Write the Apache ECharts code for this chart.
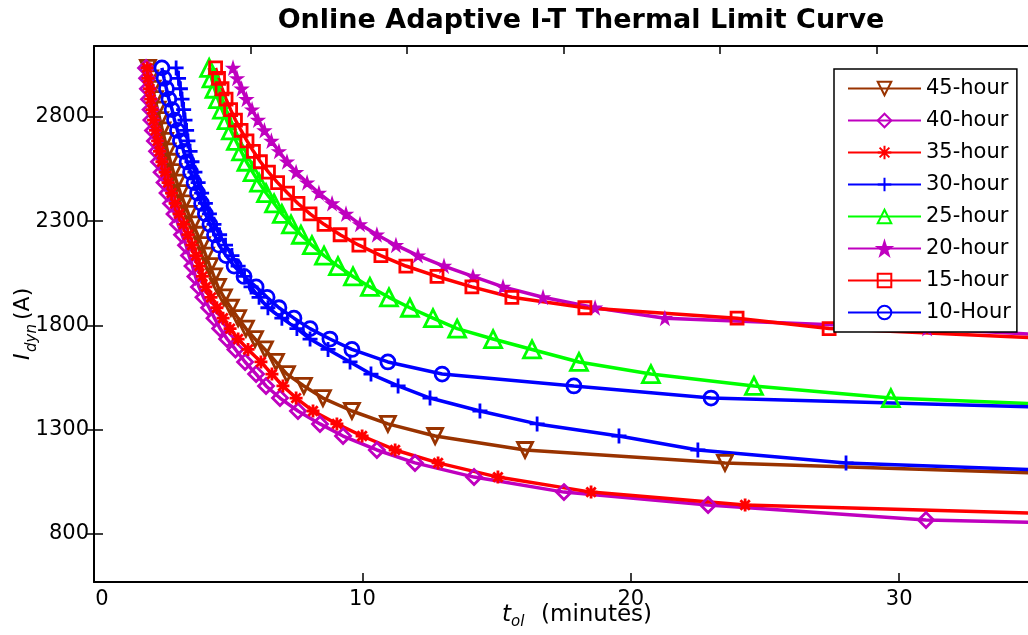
<!DOCTYPE html>
<html>
<head>
<meta charset="utf-8">
<script src="https://cdn.jsdelivr.net/npm/echarts@6/dist/echarts.min.js"></script>
<style>
html, body { margin: 0; padding: 0; background: #fff; }
#chart { width: 1028px; height: 635px; }
</style>
</head>
<body>
<div id="chart"></div>
<script>
// current levels (A) shared by every curve, top to bottom
const currentA = [3035, 2985, 2935, 2885, 2835, 2785, 2735, 2685, 2635, 2585, 2535, 2485, 2435, 2385,
    2335, 2285, 2235, 2185, 2135, 2085, 2035, 1985, 1935, 1885, 1835, 1785, 1735, 1685, 1625, 1567,
    1510, 1452, 1390, 1328, 1270, 1203, 1141, 1073, 1001, 939, 867, 805];

// overload time (minutes) for each curve, same order as currentA
const t45 = [2.01, 2.09, 2.18, 2.27, 2.37, 2.46, 2.55, 2.65, 2.74, 2.85, 2.96, 3.09, 3.22, 3.37, 3.52,
    3.69, 3.86, 4.02, 4.17, 4.32, 4.47, 4.62, 4.84, 5.10, 5.37, 5.66, 6.00, 6.37, 6.78, 7.19, 7.82, 8.53,
    9.61, 10.95, 12.71, 16.06, 23.51, 39.79];
const t40 = [1.94, 1.98, 2.01, 2.05, 2.11, 2.14, 2.20, 2.27, 2.35, 2.42, 2.52, 2.63, 2.74, 2.87, 3.00,
    3.13, 3.28, 3.43, 3.54, 3.67, 3.78, 3.91, 4.08, 4.29, 4.49, 4.70, 4.96, 5.27, 5.63, 6.04, 6.41, 6.93,
    7.60, 8.42, 9.28, 10.54, 11.96, 14.16, 17.51, 22.88, 31.00, 52.38];
const t35 = [1.98, 2.01, 2.07, 2.11, 2.16, 2.22, 2.29, 2.37, 2.44, 2.53, 2.65, 2.76, 2.89, 3.02, 3.17,
    3.34, 3.50, 3.65, 3.80, 3.93, 4.04, 4.17, 4.36, 4.58, 4.81, 5.07, 5.37, 5.74, 6.22, 6.63, 7.04, 7.53,
    8.16, 9.05, 9.99, 11.22, 12.82, 15.05, 18.52, 24.26, 44.0];
const t30 = [3.06, 3.15, 3.22, 3.28, 3.34, 3.39, 3.45, 3.50, 3.58, 3.65, 3.76, 3.88, 4.01, 4.15, 4.30,
    4.47, 4.68, 4.90, 5.14, 5.37, 5.61, 5.85, 6.15, 6.48, 7.00, 7.56, 8.05, 8.72, 9.54, 10.32, 11.33,
    12.52, 14.38, 16.51, 19.56, 22.50, 28.02, 42.70];
const t25 = [4.29, 4.38, 4.49, 4.62, 4.77, 4.94, 5.10, 5.29, 5.48, 5.68, 5.91, 6.15, 6.41, 6.71, 7.00,
    7.34, 7.71, 8.12, 8.57, 9.09, 9.65, 10.28, 10.99, 11.77, 12.63, 13.53, 14.87, 16.32, 18.07, 20.75,
    24.59, 29.69, 41.62];
const t20 = [5.18, 5.33, 5.50, 5.68, 5.89, 6.11, 6.35, 6.61, 6.89, 7.19, 7.53, 7.94, 8.38, 8.87, 9.39,
    9.91, 10.54, 11.25, 12.07, 13.04, 14.12, 15.24, 16.73, 18.67, 21.27, 31.04, 38.26];
const t15 = [4.53, 4.64, 4.77, 4.92, 5.09, 5.27, 5.48, 5.70, 5.94, 6.20, 6.50, 6.84, 7.21, 7.60, 8.05,
    8.57, 9.17, 9.87, 10.69, 11.62, 12.78, 14.08, 15.57, 18.29, 23.96, 27.39, 35.99];
const t10 = [2.53, 2.61, 2.70, 2.79, 2.91, 3.00, 3.11, 3.22, 3.34, 3.47, 3.60, 3.73, 3.86, 4.01, 4.15,
    4.32, 4.49, 4.66, 4.92, 5.22, 5.59, 6.04, 6.45, 6.89, 7.45, 8.05, 8.79, 9.61, 10.95, 12.97, 17.88,
    22.99, 40.72];

const names = ['45-hour', '40-hour', '35-hour', '30-hour', '25-hour', '20-hour', '15-hour', '10-Hour'];
const xTicks = [0, 10, 20, 30];
const yTicks = [800, 1300, 1800, 2300, 2800];
const topTicks = [5.83, 11.67, 17.5, 23.33, 29.17];

const FONT = 'DejaVu Sans';
const BROWN = '#993300', MAG = '#bf00bf', RED = '#ff0000', BLUE = '#0000ff', GREEN = '#00ff00';

const plusPath = 'path://M0,-1L0,1M-1,0L1,0';
const astPath = 'path://M0,-1L0,1M-1,0L1,0M-0.72,-0.72L0.72,0.72M-0.72,0.72L0.72,-0.72';
const pentaPath = 'path://M0,-1L0.2245,-0.309L0.951,-0.309L0.363,0.118L0.588,0.809L0,0.382L-0.588,0.809L-0.363,0.118L-0.951,-0.309L-0.2245,-0.309Z';

function pairs(t) {
    return t.map((v, i) => [v, currentA[i]]);
}

function curve(name, t, color, symbol, size, extra) {
    const s = {
        name: name,
        type: 'line',
        data: pairs(t),
        symbol: symbol,
        symbolSize: size,
        showAllSymbol: true,
        lineStyle: { color: color, width: 3.5 },
        itemStyle: { color: 'rgba(0,0,0,0)', borderColor: color, borderWidth: 2.8 },
        emphasis: { disabled: true },
        animation: false
    };
    return Object.assign(s, extra || {});
}

const chart = echarts.init(document.getElementById('chart'));

const axisText = { fontFamily: FONT, fontSize: 21, color: '#000' };

const option = {
    backgroundColor: '#fff',
    animation: false,
    grid: { left: 94, right: 0, top: 46, bottom: 53, containLabel: false, outerBoundsMode: 'none' },
    xAxis: [{
        type: 'value', position: 'bottom', min: 0, max: 34.8,
        axisLine: { show: true, lineStyle: { color: '#000', width: 2 } },
        axisTick: { show: true, inside: true, length: 9, customValues: xTicks, lineStyle: { color: '#000', width: 1.5 } },
        axisLabel: Object.assign({
            customValues: xTicks, margin: 7,
            formatter: v => v === 0 ? '{z|0}' : String(v),
            rich: { z: { padding: [0, 0, 0, 16], fontFamily: FONT, fontSize: 21, color: '#000' } }
        }, axisText),
        splitLine: { show: false }
    }, {
        type: 'value', position: 'top', min: 0, max: 34.8,
        axisLine: { show: true, lineStyle: { color: '#000', width: 2 } },
        axisTick: { show: true, inside: true, length: 8, customValues: topTicks, lineStyle: { color: '#000', width: 1.5 } },
        axisLabel: { show: false },
        splitLine: { show: false }
    }],
    yAxis: [{
        type: 'value', position: 'left', min: 570, max: 3140,
        axisLine: { show: true, lineStyle: { color: '#000', width: 2 } },
        axisTick: { show: true, inside: true, length: 9, customValues: yTicks, lineStyle: { color: '#000', width: 1.5 } },
        axisLabel: Object.assign({ customValues: yTicks, margin: 5, formatter: v => String(v) }, axisText),
        splitLine: { show: false }
    }, {
        type: 'value', position: 'right', min: 570, max: 3140,
        axisLine: { show: false },
        axisTick: { show: true, inside: true, length: 8, customValues: yTicks, lineStyle: { color: '#000', width: 1.5 } },
        axisLabel: { show: false },
        splitLine: { show: false }
    }],
    legend: {
        orient: 'vertical', left: 834, top: 69,
        padding: [9, 6, 9, 13],
        itemWidth: 73, itemHeight: 17, itemGap: 11,
        borderColor: '#000', borderWidth: 1.5, backgroundColor: '#fff',
        textStyle: { fontFamily: FONT, fontSize: 21, color: '#000', lineHeight: 17 },
        selectedMode: false,
        data: names
    },
    graphic: [
        {
            type: 'text', x: 581, y: 21,
            style: { text: 'Online Adaptive I-T Thermal Limit Curve', font: 'bold 27px "DejaVu Sans"', fill: '#000', align: 'center', verticalAlign: 'middle' }
        },
        {
            type: 'group', x: 23, y: 322, rotation: Math.PI / 2,
            children: [
                { type: 'text', x: -38, y: 0, style: { text: 'I', font: 'italic 22px "DejaVu Sans"', fill: '#000', align: 'left', verticalAlign: 'middle' } },
                { type: 'text', x: -30, y: 9, style: { text: 'dyn', font: 'italic 15px "DejaVu Sans"', fill: '#000', align: 'left', verticalAlign: 'middle' } },
                { type: 'text', x: 2, y: 0, style: { text: '(A)', font: '22px "DejaVu Sans"', fill: '#000', align: 'left', verticalAlign: 'middle' } }
            ]
        },
        { type: 'text', x: 502, y: 615, style: { text: 't', font: 'italic 23px "DejaVu Sans"', fill: '#000', align: 'left', verticalAlign: 'middle' } },
        { type: 'text', x: 511, y: 622.5, style: { text: 'ol', font: 'italic 15px "DejaVu Sans"', fill: '#000', align: 'left', verticalAlign: 'middle' } },
        { type: 'text', x: 541, y: 615, style: { text: '(minutes)', font: '23px "DejaVu Sans"', fill: '#000', align: 'left', verticalAlign: 'middle' } }
    ],
    series: [
        curve(names[0], t45, BROWN, 'triangle', 15, { symbolRotate: 180 }),
        curve(names[1], t40, MAG, 'diamond', 15),
        curve(names[2], t35, RED, astPath, 13),
        curve(names[3], t30, BLUE, plusPath, 15),
        curve(names[4], t25, GREEN, 'triangle', 17),
        curve(names[5], t20, MAG, pentaPath, 12, { itemStyle: { color: MAG, borderColor: MAG, borderWidth: 1.5 } }),
        curve(names[6], t15, RED, 'rect', 12),
        curve(names[7], t10, BLUE, 'circle', 14)
    ]
};

chart.setOption(option);
</script>
</body>
</html>
